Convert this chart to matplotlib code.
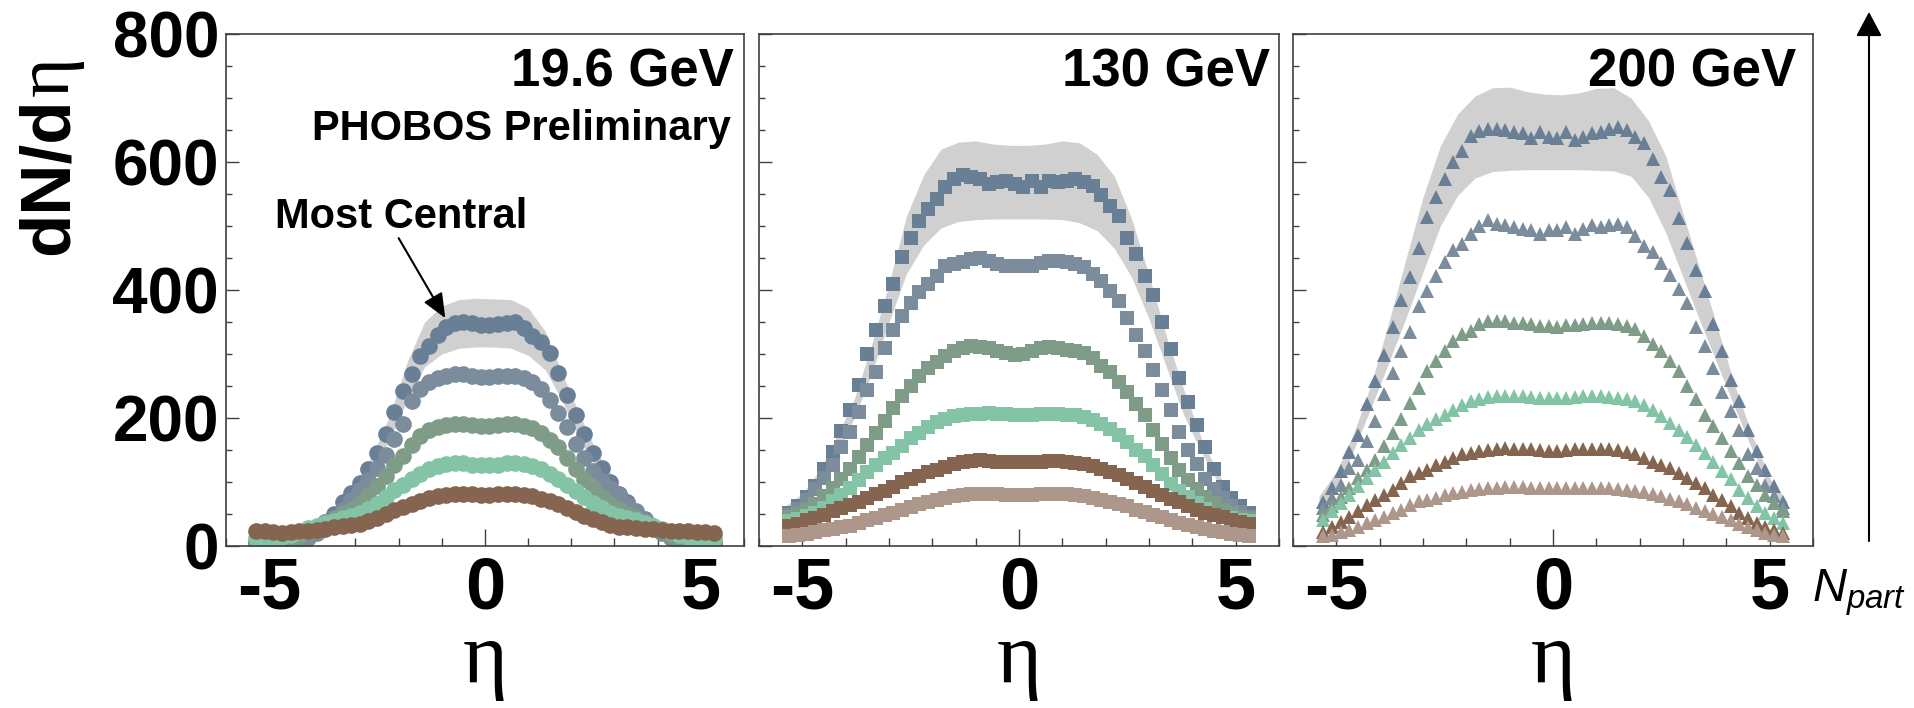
import matplotlib
matplotlib.use('Agg')
import matplotlib.pyplot as plt
from matplotlib.ticker import MultipleLocator, FixedLocator
from matplotlib.patches import FancyArrowPatch

plt.rcParams['font.family'] = ['Liberation Sans', 'DejaVu Sans']
plt.rcParams['mathtext.fontset'] = 'custom'
plt.rcParams['mathtext.it'] = 'Liberation Sans:italic'
plt.rcParams['mathtext.rm'] = 'Liberation Sans'

# ---------------- data ----------------
ETA = [-5.3, -5.1, -4.9, -4.7, -4.5, -4.3, -4.1, -3.9, -3.7, -3.5, -3.3, -3.1, -2.9, -2.7,
       -2.5, -2.3, -2.1, -1.9, -1.7, -1.5, -1.3, -1.1, -0.9, -0.7, -0.5, -0.3, -0.1,
       0.1, 0.3, 0.5, 0.7, 0.9, 1.1, 1.3, 1.5, 1.7, 1.9, 2.1, 2.3, 2.5, 2.7, 2.9, 3.1,
       3.3, 3.5, 3.7, 3.9, 4.1, 4.3, 4.5, 4.7, 4.9, 5.1, 5.3]
BAND_ETA = [-5.4, -5.0, -4.6, -4.2, -3.8, -3.4, -3.0, -2.6, -2.2, -1.8, -1.4, -1.0, -0.6, -0.2,
            0.2, 0.6, 1.0, 1.4, 1.8, 2.2, 2.6, 3.0, 3.4, 3.8, 4.2, 4.6, 5.0, 5.4]

# 19.6 GeV (circles), most central first
gev19_c1 = [4, 4, 5, 6, 7, 9, 16, 25, 37, 50, 68, 83, 98, 120, 146, 175, 210, 242, 268, 297,
            312, 330, 342, 348, 350, 348, 346, 345, 347, 349, 350, 340, 328, 318, 302, 270, 236,
            205, 175, 146, 122, 100, 82, 68, 53, 42, 31, 22, 14, 9, 7, 5, 4, 4]
gev19_c2 = [3, 3, 4, 5, 6, 8, 13, 20, 30, 42, 57, 72, 88, 103, 122, 142, 167, 190, 226, 246,
            256, 262, 266, 268, 268, 266, 264, 264, 265, 266, 266, 262, 257, 245, 228, 208, 186,
            160, 138, 117, 102, 91, 80, 66, 54, 40, 30, 20, 13, 8, 6, 4, 3, 3]
gev19_c3 = [8, 8, 9, 10, 12, 16, 22, 29, 38, 44, 50, 56, 65, 78, 94, 110, 126, 140, 158, 172,
            181, 186, 189, 191, 190, 189, 188, 188, 189, 190, 190, 188, 184, 177, 166, 155, 138,
            120, 104, 90, 77, 66, 57, 50, 43, 37, 30, 23, 17, 13, 10, 9, 8, 8]
gev19_c4 = [12, 12, 13, 14, 17, 22, 28, 32, 36, 39, 43, 47, 52, 58, 66, 76, 87, 96, 104, 113,
            120, 125, 128, 130, 129, 127, 126, 126, 127, 129, 129, 128, 125, 120, 113, 104, 95,
            86, 76, 67, 59, 52, 47, 43, 40, 36, 32, 27, 22, 17, 14, 13, 12, 12]
gev19_c5 = [24, 24, 22, 21, 22, 23, 24, 25, 27, 29, 31, 33, 35, 39, 44, 50, 56, 61, 66, 71,
            75, 78, 80, 82, 82, 81, 80, 80, 81, 82, 81, 80, 78, 74, 70, 65, 59,
            53, 47, 42, 37, 33, 30, 29, 28, 27, 26, 25, 24, 24, 23, 22, 22, 21]
gev19_band_up = [6, 8, 10, 20, 37, 58, 95, 143, 205, 288, 350, 375, 385, 387,
                 386, 385, 372, 335, 268, 204, 145, 105, 66, 42, 24, 11, 8, 6]
gev19_band_lo = [2, 3, 5, 9, 26, 48, 78, 118, 168, 228, 280, 300, 309, 311,
                 311, 309, 298, 275, 225, 165, 118, 80, 52, 30, 12, 5, 3, 2]

# 130 GeV (squares)
gev130_s1 = [52, 62, 77, 93, 120, 147, 180, 213, 252, 300, 337, 375, 410, 452, 482, 508, 527, 542,
             561, 573, 579, 577, 574, 566, 569, 571, 565, 561, 570, 561, 571, 569, 571, 574, 569,
             563, 548, 532, 515, 482, 456, 422, 392, 350, 308, 263, 225, 189, 154, 121, 92, 75, 62, 52]
gev130_s2 = [48, 58, 72, 89, 106, 127, 154, 178, 210, 243, 272, 310, 337, 360, 379, 397, 409, 422,
             437, 440, 444, 449, 450, 445, 441, 438, 438, 438, 438, 442, 445, 446, 443, 440, 436,
             425, 414, 399, 383, 357, 330, 304, 275, 244, 212, 178, 150, 128, 104, 89, 75, 62, 53, 46]
gev130_s3 = [45, 50, 56, 66, 78, 91, 104, 120, 139, 158, 176, 196, 215, 234, 250, 266, 278, 288,
             297, 304, 309, 312, 311, 309, 305, 301, 299, 300, 304, 309, 311, 310, 307, 304, 301,
             293, 282, 272, 256, 240, 222, 204, 181, 160, 138, 119, 103, 89, 76, 67, 56, 51, 46, 42]
gev130_s4 = [39, 42, 47, 52, 60, 70, 80, 90, 103, 115, 126, 138, 146, 157, 168, 177, 186, 193,
             198, 203, 205, 206, 207, 208, 207, 206, 205, 205, 205, 206, 207, 206, 205, 204, 201,
             197, 191, 183, 173, 162, 150, 140, 126, 112, 97, 86, 76, 67, 58, 49, 45, 43, 41, 39]
gev130_s5 = [31, 35, 40, 44, 48, 54, 60, 64, 69, 75, 81, 86, 92, 100, 105, 109, 115, 119,
             124, 128, 131, 133, 134, 133, 132, 131, 131, 131, 132, 132, 133, 133, 132, 130, 128,
             125, 121, 116, 111, 105, 98, 92, 86, 80, 74, 68, 62, 57, 52, 48, 45, 40, 37, 34]
gev130_s6 = [16, 17, 19, 22, 25, 27, 30, 32, 36, 40, 44, 48, 52, 56, 61, 65, 69, 72,
             75, 78, 80, 81, 82, 82, 81, 80, 80, 80, 80, 81, 81, 81, 81, 80, 78,
             75, 72, 69, 66, 62, 57, 53, 49, 45, 40, 36, 33, 30, 27, 24, 22, 19, 17, 16]
gev130_band_up = [62, 82, 118, 172, 230, 315, 410, 515, 580, 620, 631, 633, 628, 626,
                  626, 628, 633, 630, 612, 578, 511, 423, 328, 245, 170, 112, 74, 54]
gev130_band_lo = [40, 62, 95, 145, 200, 270, 350, 425, 470, 497, 507, 510, 511, 511,
                  511, 511, 510, 505, 493, 465, 420, 355, 280, 205, 148, 98, 64, 42]

# 200 GeV (triangles)
gev200_t1 = [68, 90, 117, 147, 174, 222, 258, 298, 342, 385, 420, 466, 514, 545, 573, 600, 617, 641,
             649, 651, 652, 650, 647, 645, 637, 647, 639, 637, 647, 634, 639, 645, 647, 652, 655,
             650, 639, 629, 605, 577, 556, 512, 474, 432, 398, 347, 305, 260, 227, 182, 148, 118, 93, 68]
gev200_t2 = [59, 75, 96, 122, 135, 164, 195, 237, 271, 305, 334, 375, 399, 422, 444, 462, 472, 488,
             500, 509, 503, 501, 498, 496, 493, 488, 494, 493, 498, 488, 496, 501, 498, 501, 503,
             498, 485, 469, 460, 442, 424, 402, 380, 342, 312, 278, 240, 211, 182, 143, 122, 96, 78, 59]
gev200_t3 = [49, 62, 77, 90, 106, 119, 135, 156, 177, 198, 224, 247, 273, 289, 305, 320, 331, 336,
             347, 352, 352, 351, 349, 349, 347, 344, 344, 342, 346, 346, 347, 349, 349, 349, 347,
             344, 339, 328, 315, 305, 289, 273, 250, 229, 205, 187, 169, 148, 130, 109, 96, 80, 67, 54]
gev200_t4 = [41, 54, 67, 80, 93, 106, 119, 132, 145, 158, 169, 182, 190, 198, 205, 213, 221, 226,
             230, 233, 234, 235, 235, 234, 233, 232, 231, 231, 232, 233, 234, 234, 234, 233, 232,
             230, 226, 221, 213, 203, 192, 182, 171, 158, 145, 132, 117, 104, 88, 75, 62, 51, 43, 36]
gev200_t5 = [22, 30, 38, 46, 54, 64, 72, 80, 88, 98, 109, 114, 119, 127, 132, 137, 143, 145,
             148, 150, 152, 153, 152, 151, 151, 150, 149, 149, 150, 151, 151, 152, 152, 151, 150,
             147, 143, 137, 132, 127, 122, 114, 106, 98, 90, 80, 72, 62, 51, 43, 36, 30, 25, 20]
gev200_t6 = [15, 17, 22, 25, 30, 36, 41, 46, 51, 56, 64, 70, 72, 75, 80, 83, 85, 88,
             89, 90, 91, 92, 92, 92, 91, 90, 90, 90, 90, 91, 91, 91, 91, 90, 89,
             88, 86, 84, 81, 78, 74, 70, 65, 60, 55, 50, 45, 40, 35, 29, 25, 21, 17, 15]
gev200_band_up = [78, 116, 176, 252, 347, 447, 545, 625, 675, 703, 716, 717, 710, 706,
                  705, 708, 715, 716, 700, 665, 610, 519, 430, 340, 250, 173, 106, 70]
gev200_band_lo = [50, 88, 150, 216, 285, 355, 428, 500, 548, 575, 585, 587, 588, 588,
                  588, 588, 587, 586, 578, 545, 490, 420, 350, 283, 215, 150, 90, 48]

ENERGY_LABELS = ['19.6 GeV', '130 GeV', '200 GeV']
Y_TICKS = [0, 200, 400, 600, 800]
X_TICKS = [-5, 0, 5]
X_TICK_LABELS = ['-5', '0', '5']

# ---------------- style ----------------
COLORS = ['#687f95', '#7b8c9c', '#7f9c88', '#83c4a6', '#856550', '#ad978a']
BAND_COLOR = '#d0d0d0'
SPINE = '#404040'

W, H = 1915, 708
fig = plt.figure(figsize=(W / 100, H / 100), dpi=100)

lefts = [226, 759, 1293]
widths = [518, 520, 520]
bottom_px, top_px = 546, 34

panels = [
    (gev19_band_up, gev19_band_lo, [gev19_c1, gev19_c2, gev19_c3, gev19_c4, gev19_c5], 'o', 12),
    (gev130_band_up, gev130_band_lo, [gev130_s1, gev130_s2, gev130_s3, gev130_s4, gev130_s5, gev130_s6], 's', 9.5),
    (gev200_band_up, gev200_band_lo, [gev200_t1, gev200_t2, gev200_t3, gev200_t4, gev200_t5, gev200_t6], '^', 9.5),
]
label_x = [0.981, 0.983, 0.968]

axes = []
for i, (bu, bl, series, mk, ms) in enumerate(panels):
    ax = fig.add_axes([lefts[i] / W, (H - bottom_px) / H, widths[i] / W, (bottom_px - top_px) / H])
    axes.append(ax)
    ax.fill_between(BAND_ETA, bl, bu, color=BAND_COLOR, lw=0, zorder=1)
    for vals, c in zip(series, COLORS):
        ax.plot(ETA, vals, ls='none', marker=mk, ms=ms, color=c, mec=c, mew=0, zorder=2)
    ax.set_xlim(-6, 6)
    ax.set_ylim(0, 800)
    ax.xaxis.set_major_locator(FixedLocator(X_TICKS))
    ax.xaxis.set_minor_locator(MultipleLocator(1))
    ax.yaxis.set_major_locator(FixedLocator(Y_TICKS))
    ax.yaxis.set_minor_locator(MultipleLocator(50))
    ax.tick_params(axis='both', which='both', direction='in', top=False, right=False,
                   width=1.0, color=SPINE)
    ax.tick_params(axis='y', which='major', length=9.5, labelsize=46, pad=5)
    ax.tick_params(axis='y', which='minor', length=4.5)
    ax.tick_params(axis='x', which='major', length=12, labelsize=52, pad=7)
    ax.tick_params(axis='x', which='minor', length=6)
    ax.set_xticklabels(X_TICK_LABELS, fontweight='bold')
    if i == 0:
        ax.set_yticklabels([str(v) for v in Y_TICKS], fontweight='bold')
    else:
        ax.set_yticklabels([])
    for s in ax.spines.values():
        s.set_color(SPINE)
        s.set_linewidth(1.2)
    ax.text(label_x[i], 0.897, ENERGY_LABELS[i], transform=ax.transAxes, ha='right',
            va='baseline', fontsize=38, fontweight='bold')
    ax.text(0.5, -0.225, 'η', transform=ax.transAxes, ha='center', va='center',
            fontsize=62, family=['Liberation Serif', 'DejaVu Serif'])
    mt = ax.xaxis.get_major_ticks()
    mt[0].tick1line.set_markersize(6)
    mt[2].tick1line.set_markersize(6)

ax1 = axes[0]
ax1.text(0.975, 0.793, 'PHOBOS Preliminary', transform=ax1.transAxes, ha='right',
         va='baseline', fontsize=30, fontweight='bold')
ax1.text(-1.94, 497, 'Most Central', ha='center', va='baseline', fontsize=30, fontweight='bold')
ax1.annotate('', xy=(-0.92, 356), xytext=(-2.0, 481),
             arrowprops=dict(arrowstyle='-|>,head_length=0.75,head_width=0.32', mutation_scale=20,
                             lw=1.5, color='black', shrinkA=0, shrinkB=0), zorder=5)

# y label: dN/d (bold sans) + eta (serif)
t1 = fig.text(68 / W, (H - 255) / H, 'dN/d', rotation=90, rotation_mode='anchor', ha='left',
              va='baseline', fontsize=51, fontweight='bold')
fig.canvas.draw()
bb = t1.get_window_extent()
fig.text(68 / W, (bb.y1 + 2) / H, 'η', rotation=90, rotation_mode='anchor', ha='left',
         va='baseline', fontsize=55, family=['Liberation Serif', 'DejaVu Serif'])

# N_part arrow and label
arrow = FancyArrowPatch((1869 / W, (H - 541) / H), (1869 / W, (H - 12) / H),
                        transform=fig.transFigure,
                        arrowstyle='-|>,head_length=0.75,head_width=0.4', mutation_scale=20,
                        lw=1.5, color='black', shrinkA=0, shrinkB=0)
fig.add_artist(arrow)
fig.text(1812 / W, (H - 602) / H, r'$N_{part}$', fontsize=34, ha='left', va='baseline')

fig.savefig('out.png', dpi=100)
